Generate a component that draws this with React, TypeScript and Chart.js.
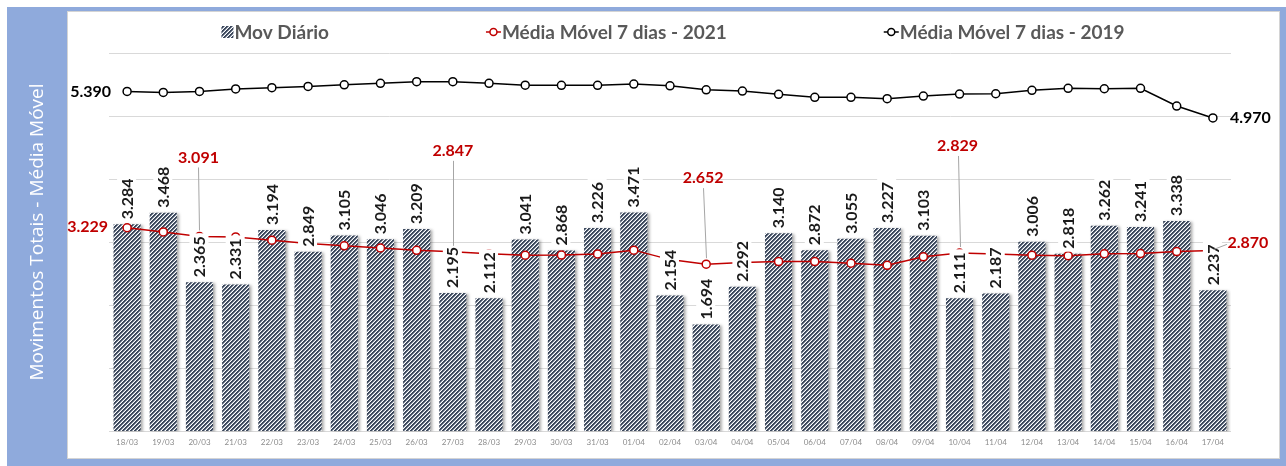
import React, { useEffect, useRef } from 'react';
import { Chart, registerables } from 'chart.js';

Chart.register(...registerables);

const categories = [
  '18/03', '19/03', '20/03', '21/03', '22/03', '23/03', '24/03', '25/03', '26/03', '27/03', '28/03',
  '29/03', '30/03', '31/03', '01/04', '02/04', '03/04', '04/04', '05/04', '06/04', '07/04', '08/04',
  '09/04', '10/04', '11/04', '12/04', '13/04', '14/04', '15/04', '16/04', '17/04',
];

const movDiario = [
  3284, 3468, 2365, 2331, 3194, 2849, 3105, 3046, 3209, 2195, 2112,
  3041, 2868, 3226, 3471, 2154, 1694, 2292, 3140, 2872, 3055, 3227,
  3103, 2111, 2187, 3006, 2818, 3262, 3241, 3338, 2237,
];

const media2021 = [
  3229, 3163, 3091, 3084, 3032, 2980, 2942, 2908, 2871, 2847, 2815,
  2793, 2796, 2814, 2874, 2724, 2652, 2678, 2692, 2693, 2668, 2633,
  2769, 2829, 2814, 2795, 2787, 2817, 2819, 2852, 2870,
];

const media2019 = [
  5390, 5375, 5390, 5430, 5450, 5470, 5495, 5520, 5545, 5545, 5520,
  5490, 5487, 5487, 5508, 5480, 5417, 5397, 5344, 5297, 5297, 5275,
  5317, 5349, 5354, 5408, 5440, 5433, 5440, 5159, 4970,
];

const yMin = 0;
const yMax = 6000;
const yStep = 1000;

const legendLabels = ['Mov Diário', 'Média Móvel 7 dias - 2021', 'Média Móvel 7 dias - 2019'];
const axisTitle = 'Movimentos Totais - Média Móvel';

const labeled2021 = [0, 2, 9, 16, 23, 30];
const labeled2019 = [0, 30];

// ---- styles / layout ----
const W = 1286;
const H = 466;
const BLUE = '#8FAADC';
const RED = '#C00000';
const BAR_DARK = [60, 72, 92];
const FONT = 'Lato, "Liberation Sans", sans-serif';

const redLabelPos: Record<number, { dx: number; dy: number; align: CanvasTextAlign; leader: boolean }> = {
  0: { dx: -19, dy: -1, align: 'right', leader: false },
  2: { dx: -1, dy: -79, align: 'center', leader: true },
  9: { dx: 0, dy: -101, align: 'center', leader: true },
  16: { dx: -3, dy: -86, align: 'center', leader: true },
  23: { dx: -2, dy: -107, align: 'center', leader: true },
  30: { dx: 35, dy: -8, align: 'center', leader: true },
};

function fmt(v: number): string {
  const s = String(Math.round(v));
  return s.slice(0, -3) + '.' + s.slice(-3);
}

function makePattern(): CanvasPattern | string {
  const c = document.createElement('canvas');
  c.width = 4;
  c.height = 4;
  const g = c.getContext('2d');
  if (!g) return '#44546A';
  const img = g.createImageData(4, 4);
  for (let y = 0; y < 4; y++) {
    for (let x = 0; x < 4; x++) {
      const i = (y * 4 + x) * 4;
      const k = (x + y) % 4;
      let col = BAR_DARK;
      if (k === 3) col = [255, 255, 255];
      else if (k === 2) col = [150, 160, 175];
      img.data[i] = col[0];
      img.data[i + 1] = col[1];
      img.data[i + 2] = col[2];
      img.data[i + 3] = 255;
    }
  }
  g.putImageData(img, 0, 0);
  const p = g.createPattern(c, 'repeat');
  return p || '#44546A';
}

export default function App() {
  const ref = useRef<HTMLCanvasElement | null>(null);

  useEffect(() => {
    document.body.style.margin = '0';
    const canvas = ref.current;
    if (!canvas) return;
    const pattern = makePattern();

    const decor = {
      id: 'decor',
      beforeDraw(chart: any) {
        const ctx: CanvasRenderingContext2D = chart.ctx;
        ctx.save();
        ctx.fillStyle = '#fff';
        ctx.fillRect(0, 0, W, H);
        ctx.fillStyle = BLUE;
        ctx.fillRect(7, 7, W - 7, H - 7);
        ctx.fillStyle = '#fff';
        ctx.fillRect(67, 11, 1213, 448);
        ctx.strokeStyle = '#d4d4d4';
        ctx.lineWidth = 1;
        ctx.strokeRect(67.5, 11.5, 1212, 447);
        // axis title
        ctx.save();
        ctx.translate(38, 232);
        ctx.rotate(-Math.PI / 2);
        ctx.font = '400 19px "Open Sans", sans-serif';
        ctx.fillStyle = '#fff';
        ctx.textAlign = 'center';
        ctx.textBaseline = 'middle';
        ctx.fillText(axisTitle, 0, 0);
        ctx.restore();
        // legend
        ctx.font = `bold 19px ${FONT}`;
        ctx.textBaseline = 'middle';
        ctx.textAlign = 'left';
        const gap = 157;
        const markerW = [13, 16, 16];
        const widths = legendLabels.map((t, i) => markerW[i] + ctx.measureText(t).width);
        const total = widths.reduce((a, b) => a + b, 0) + gap * (widths.length - 1);
        let x = 673 - total / 2;
        const ly = 32;
        legendLabels.forEach((t, i) => {
          if (i === 0) {
            ctx.fillStyle = pattern as any;
            ctx.fillRect(x, ly - 6, 12, 12);
          } else {
            const col = i === 1 ? RED : '#000';
            ctx.beginPath();
            ctx.moveTo(x, ly);
            ctx.lineTo(x + 15, ly);
            ctx.strokeStyle = col;
            ctx.lineWidth = 1.5;
            ctx.stroke();
            ctx.beginPath();
            ctx.arc(x + 7.5, ly, 3.5, 0, Math.PI * 2);
            ctx.fillStyle = '#fff';
            ctx.fill();
            ctx.stroke();
          }
          ctx.fillStyle = '#595959';
          ctx.fillText(t, x + markerW[i], ly + 1);
          x += widths[i] + gap;
        });
        ctx.restore();
      },
      beforeDatasetDraw(chart: any, args: any) {
        if (args.index === 0) {
          const ctx = chart.ctx;
          ctx.save();
          ctx.shadowColor = 'rgba(0,0,0,0.35)';
          ctx.shadowBlur = 3;
          ctx.shadowOffsetX = 2;
          ctx.shadowOffsetY = 1;
        }
      },
      afterDatasetDraw(chart: any, args: any) {
        if (args.index === 0) chart.ctx.restore();
      },
      afterDatasetsDraw(chart: any) {
        const ctx: CanvasRenderingContext2D = chart.ctx;
        const barMeta = chart.getDatasetMeta(0);
        const redMeta = chart.getDatasetMeta(1);
        const blkMeta = chart.getDatasetMeta(2);
        ctx.save();
        // bar value labels
        ctx.font = `bold 16px ${FONT}`;
        barMeta.data.forEach((bar: any, i: number) => {
          const txt = fmt(movDiario[i]);
          const tw = ctx.measureText(txt).width;
          ctx.save();
          ctx.translate(bar.x, bar.y - 2);
          ctx.rotate(-Math.PI / 2);
          ctx.fillStyle = '#fff';
          ctx.fillRect(0, -10, tw + 6, 19);
          ctx.fillStyle = '#1a1a1a';
          ctx.textAlign = 'left';
          ctx.textBaseline = 'middle';
          ctx.fillText(txt, 3, 0.5);
          ctx.restore();
        });
        // red labels
        ctx.font = `bold 16px ${FONT}`;
        ctx.textBaseline = 'middle';
        labeled2021.forEach((i) => {
          const pt = redMeta.data[i];
          const p = redLabelPos[i];
          const lx = pt.x + p.dx;
          const ly = pt.y + p.dy;
          if (p.leader) {
            ctx.beginPath();
            ctx.strokeStyle = '#a6a6a6';
            ctx.lineWidth = 1;
            if (i === 30) {
              ctx.moveTo(lx - 21, ly + 2);
              ctx.lineTo(pt.x + 1, pt.y - 1);
            } else {
              ctx.moveTo(Math.round(lx) + 0.5, ly + 10);
              ctx.lineTo(Math.round(pt.x) + 0.5, pt.y - 6);
            }
            ctx.stroke();
          }
          ctx.fillStyle = RED;
          ctx.textAlign = p.align;
          ctx.fillText(fmt(media2021[i]), lx, ly);
        });
        // black labels
        ctx.fillStyle = '#000';
        labeled2019.forEach((i, k) => {
          const pt = blkMeta.data[i];
          ctx.textAlign = k === 0 ? 'right' : 'left';
          ctx.fillText(fmt(media2019[i]), pt.x + (k === 0 ? -16 : 17), pt.y);
        });
        ctx.restore();
      },
    };

    const chart = new Chart(canvas, {
      type: 'bar',
      data: {
        labels: categories,
        datasets: [
          {
            type: 'bar',
            label: legendLabels[0],
            data: movDiario,
            backgroundColor: pattern as any,
            borderWidth: 0,
            categoryPercentage: 1,
            barPercentage: 0.75,
            order: 3,
          },
          {
            type: 'line',
            label: legendLabels[1],
            data: media2021,
            borderColor: RED,
            borderWidth: 1.5,
            pointRadius: 4,
            pointBorderWidth: 1.5,
            pointBackgroundColor: '#fff',
            pointBorderColor: RED,
            tension: 0,
            order: 1,
          },
          {
            type: 'line',
            label: legendLabels[2],
            data: media2019,
            borderColor: '#000',
            borderWidth: 1.5,
            pointRadius: 4,
            pointBorderWidth: 1.5,
            pointBackgroundColor: '#fff',
            pointBorderColor: '#000',
            tension: 0,
            order: 2,
          },
        ],
      },
      options: {
        responsive: false,
        animation: false,
        layout: { padding: { left: 109, right: 55, top: 53, bottom: 13 } },
        plugins: {
          legend: { display: false },
          tooltip: { enabled: false },
        },
        scales: {
          x: {
            grid: { display: false, drawTicks: false },
            border: { display: false },
            ticks: {
              color: '#8c8c8c',
              font: { size: 8, family: FONT },
              padding: 6,
              maxRotation: 0,
              autoSkip: false,
            },
          },
          y: {
            min: yMin,
            max: yMax,
            ticks: { display: false, stepSize: yStep },
            grid: { color: '#d9d9d9', drawTicks: false, lineWidth: 1 },
            border: { display: false },
            afterFit: (s: any) => {
              s.width = 0;
            },
          },
        },
      },
      plugins: [decor],
    });

    return () => chart.destroy();
  }, []);

  return (
    <div style={{ position: 'absolute', left: 0, top: 0, width: W, height: H }}>
      <canvas ref={ref} width={W} height={H} style={{ display: 'block' }} />
    </div>
  );
}
